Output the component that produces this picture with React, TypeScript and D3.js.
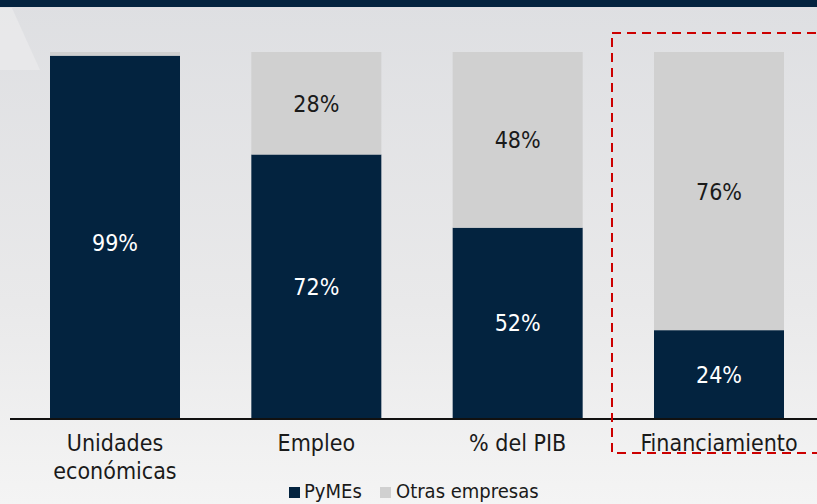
import React from "react";
import * as d3 from "d3";

const categories = ["Unidades económicas", "Empleo", "% del PIB", "Financiamiento"];
const categoryLines = [["Unidades", "económicas"], ["Empleo"], ["% del PIB"], ["Financiamiento"]];
const pymes = [99, 72, 52, 24];
const otras = [1, 28, 48, 76];
const seriesNames = ["PyMEs", "Otras empresas"];

const W = 817;
const H = 504;
const NAVY = "#03233f";
const GRAY = "#d0d0d0";
const FONT = "'Liberation Sans Narrow', 'DejaVu Sans Condensed', sans-serif";

export default function App() {
  const x = d3.scaleBand<string>().domain(categories).range([50, 784]).paddingInner(0.3543).paddingOuter(0);
  const y = d3.scaleLinear().domain([0, 100]).range([418, 52]);
  const rows = categories.map((c, i) => ({ cat: c, PyMEs: pymes[i], Otras: otras[i] }));
  const stacked = d3.stack<any>().keys(["PyMEs", "Otras"])(rows);
  const colors = [NAVY, GRAY];
  const textColors = ["#ffffff", "#1a1a1a"];

  return (
    <svg width={W} height={H} style={{ position: "absolute", left: 0, top: 0 }}>
      <defs>
        <linearGradient id="bg" x1="0" y1="0" x2="0" y2="1">
          <stop offset="0" stopColor="#dedfe2" />
          <stop offset="0.6" stopColor="#e9e9ea" />
          <stop offset="1" stopColor="#f4f4f4" />
        </linearGradient>
      </defs>
      <rect x={0} y={0} width={W} height={H} fill="url(#bg)" />
      <polygon points="0,8 12,8 40,70 0,70" fill="#ebebed" opacity={0.7} />
      <rect x={0} y={0} width={W} height={7} fill={NAVY} />

      {stacked.map((layer, li) =>
        layer.map((d, i) => {
          const x0 = x(categories[i])!;
          const bw = x.bandwidth();
          const y0 = y(d[1]);
          const y1 = y(d[0]);
          const v = d[1] - d[0];
          return (
            <g key={`${li}-${i}`}>
              <rect x={x0} y={y0} width={bw} height={y1 - y0} fill={colors[li]} />
              {v >= 5 && (
                <text
                  x={x0 + bw / 2}
                  y={(y0 + y1) / 2 + (li === 0 && i === 0 ? 8 : 2)}
                  textAnchor="middle"
                  dominantBaseline="middle"
                  fontFamily={FONT}
                  fontSize={23}
                  fill={textColors[li]}
                >
                  {v}%
                </text>
              )}
            </g>
          );
        })
      )}

      <line x1={10} x2={W} y1={y(0) + 1} y2={y(0) + 1} stroke="#111" strokeWidth={2} />

      {categories.map((c, i) => (
        <text
          key={c}
          x={x(c)! + x.bandwidth() / 2}
          y={451}
          textAnchor="middle"
          fontFamily={FONT}
          fontSize={23}
          fill="#1a1a1a"
        >
          {categoryLines[i].map((l, j) => (
            <tspan key={j} x={x(c)! + x.bandwidth() / 2} dy={j === 0 ? 0 : 28}>
              {l}
            </tspan>
          ))}
        </text>
      ))}

      <rect
        x={612}
        y={33}
        width={W}
        height={420}
        fill="none"
        stroke="#cc0000"
        strokeWidth={2}
        strokeDasharray="9,6"
      />

      <g fontFamily={FONT} fontSize={20} fill="#1a1a1a">
        <rect x={289} y={487} width={11} height={11} fill={NAVY} />
        <text x={304} y={498}>{seriesNames[0]}</text>
        <rect x={380} y={487} width={11} height={11} fill={GRAY} />
        <text x={396} y={498}>{seriesNames[1]}</text>
      </g>
    </svg>
  );
}
